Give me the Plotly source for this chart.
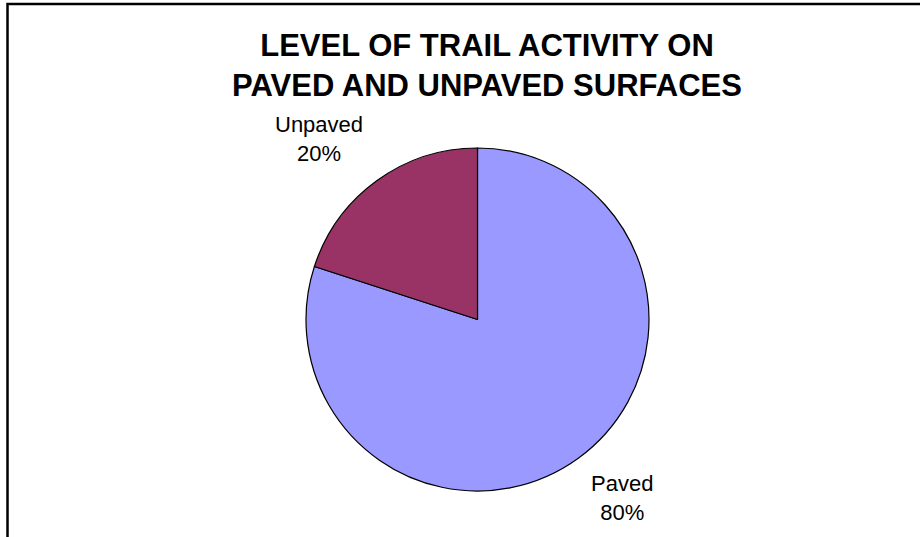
import plotly.graph_objects as go

# Share of trail activity by surface type
surfaces = ["Paved", "Unpaved"]
shares = [80, 20]
slice_colors = ["#9999FF", "#993366"]

title_lines = ["LEVEL OF TRAIL ACTIVITY ON", "PAVED AND UNPAVED SURFACES"]

W, H = 920, 537
FONT = "Liberation Sans, Arial, sans-serif"

fig = go.Figure(go.Pie(
    labels=surfaces, values=shares,
    sort=False, direction="clockwise", rotation=0,
    marker=dict(colors=slice_colors, line=dict(color="#000000", width=1.2)),
    textinfo="none",
    domain=dict(x=[306 / W, 649 / W], y=[(H - 491) / H, (H - 148) / H]),
    showlegend=False, hoverinfo="label+percent",
))

# data labels sit outside the pie, Excel-style
label_pos = {"Paved": (622, 498), "Unpaved": (319, 139)}
total = sum(shares)
for name, val in zip(surfaces, shares):
    px, py = label_pos[name]
    fig.add_annotation(x=px / W, y=1 - py / H, xref="paper", yref="paper",
                       text=f"{name}<br>{round(val / total * 100)}%",
                       showarrow=False, xanchor="center", yanchor="middle",
                       font=dict(family=FONT, size=22, color="#000000"))

fig.update_layout(
    width=W, height=H,
    margin=dict(l=0, r=0, t=0, b=0),
    paper_bgcolor="#FFFFFF", plot_bgcolor="#FFFFFF",
    font=dict(family=FONT, color="#000000"),
    title=dict(text="<b>" + "<br>".join(title_lines) + "</b>",
               x=487 / W, xanchor="center", y=1 - 56 / H, yanchor="middle",
               font=dict(family=FONT, size=31, color="#000000")),
)

# chart-area frame (right and bottom edges sit outside the window)
fig.add_shape(type="rect", xref="paper", yref="paper",
              x0=7.5 / W, x1=1.05, y0=-0.05, y1=1 - 4 / H,
              line=dict(color="#000000", width=2.5), fillcolor="rgba(0,0,0,0)")

fig.write_html("out.html", config={"displayModeBar": False},
               post_script="document.body.style.margin='0';")
